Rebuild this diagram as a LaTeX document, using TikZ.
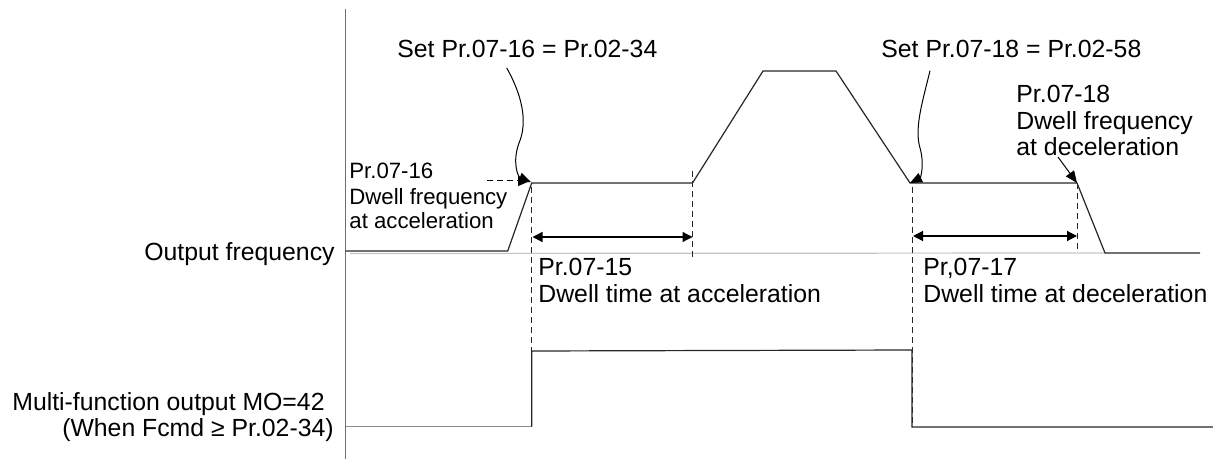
\documentclass[tikz,border=0pt]{standalone}
\usepackage{fontspec}
\setmainfont{Liberation Sans}
\usepackage{tikz}
\usetikzlibrary{arrows.meta,positioning}
\definecolor{zeroline}{HTML}{c4c4c4}
\definecolor{axisgray}{HTML}{6e6e6e}

\tikzset{
  wave/.style={line width=0.6pt, black!85},
  base/.style={line width=0.6pt, zeroline},
  guide/.style={dash pattern=on 3pt off 2pt, line width=0.45pt, black!85},
  lbl/.style={inner sep=0pt, font=\fontsize{12.4}{14}\selectfont},
  lblsmall/.style={inner sep=0pt, font=\fontsize{11.1}{13}\selectfont},
  pointer/.style={line width=0.5pt, -{Triangle[length=6pt,width=5pt]}},
  span/.style={line width=0.6pt, {Triangle[length=5pt,width=5pt]}-{Triangle[length=5pt,width=5pt]}},
}

\begin{document}
\begin{tikzpicture}[x=0.5pt, y=-0.5pt]
  \useasboundingbox (0,0) rectangle (1213,459);

  % Axis
  \coordinate (axTop) at (345.7,9);
  \coordinate (axBot) at (345.7,459);
  \draw[line width=0.6pt, axisgray] (axTop) -- (axBot);

  % Signal names
  \node[lbl, anchor=base east] (outF) at (335,261) {Output frequency};
  \node[lbl, anchor=base east] (moA) at (325,410) {Multi-function output MO=42};
  \node[lbl, anchor=base east] (moB) at (334,436) {(When Fcmd ≥ Pr.02-34)};

  % Output frequency curve
  \coordinate (f0) at (345.7,251);
  \coordinate (f1) at (507.7,251);
  \coordinate (f2) at (531.7,183);
  \coordinate (f3) at (692.5,183);
  \coordinate (f4) at (763,71);
  \coordinate (f5) at (836,71);
  \coordinate (f6) at (910,183);
  \coordinate (f7) at (1077,183);
  \coordinate (f8) at (1105,253);
  \coordinate (f9) at (1200,253);
  \coordinate (z0) at (350,253.5);
  \draw[base] (z0) -- (f8);
  \draw[wave] (f0) -- (f1) -- (f2) -- (f3) -- (f4) -- (f5) -- (f6) -- (f7) -- (f8) -- (f9);

  % MO=42 signal
  \coordinate (m0) at (345.7,426.5);
  \coordinate (m1) at (531.7,426.5);
  \coordinate (m2) at (531.7,351);
  \coordinate (m3) at (912,350);
  \coordinate (m4) at (912,427);
  \coordinate (m5) at (1213,427);
  \draw[base, black!45] (m0) -- (m1);
  \draw[wave] (m1) -- (m2) -- (m3) -- (m4) -- (m5);

  % Dashed guides
  \draw[guide] (531.7,187) -- (m1);
  \draw[guide] (692.5,171) -- (692.5,260);
  \draw[guide] (912,187) -- (m4);
  \draw[guide] (f7) -- (1077,250);

  % Dwell times
  \draw[span] (532.5,237) -- (692.5,237);
  \draw[span] (913,236) -- (1077,236);
  \node[lbl, anchor=base west] (pr15) at (538,276) {Pr.07-15};
  \node[lbl, anchor=base west] (dt15) at (538,302) {Dwell time at acceleration};
  \node[lbl, anchor=base west] (pr17) at (923,276) {Pr,07-17};
  \node[lbl, anchor=base west] (dt17) at (923,302) {Dwell time at deceleration};

  % Dwell frequency at acceleration
  \node[lblsmall, anchor=base west] (pr16) at (349,179) {Pr.07-16};
  \node[lblsmall, anchor=base west] (df16) at (349,205) {Dwell frequency};
  \node[lblsmall, anchor=base west] (ac16) at (349,229) {at acceleration};
  \coordinate (pr16end) at (487,181);
  \draw[pointer, dash pattern=on 3pt off 2pt] (pr16end) -- (530,181);

  % Set Pr.07-16
  \node[lbl, anchor=base west] (set16) at (397,58) {Set Pr.07-16 = Pr.02-34};
  \coordinate (set16end) at (506.7,68);
  \draw[pointer] (set16end) .. controls (522,95) and (528,122) .. (519,143)
    .. controls (512,162) and (518,177) .. (531,182);

  % Dwell frequency at deceleration
  \node[lbl, anchor=base west] (pr18) at (1016,103) {Pr.07-18};
  \node[lbl, anchor=base west] (df18) at (1016,130) {Dwell frequency};
  \node[lbl, anchor=base west] (dc18) at (1016,156) {at deceleration};
  \coordinate (dc18end) at (1058,157);
  \draw[pointer] (dc18end) -- (f7);

  % Set Pr.07-18
  \node[lbl, anchor=base west] (set18) at (881,58) {Set Pr.07-18 = Pr.02-58};
  \coordinate (set18end) at (930,70.7);
  \draw[pointer] (set18end) .. controls (923,100) and (914,128) .. (920,148)
    .. controls (925,166) and (920,178) .. (f6);
\end{tikzpicture}
\end{document}
